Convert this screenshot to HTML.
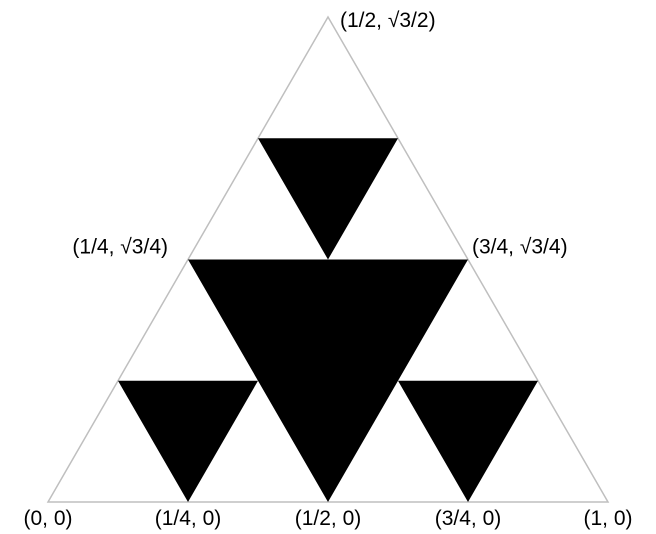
<!DOCTYPE html>
<html><head><meta charset="utf-8"><style>
html,body{margin:0;padding:0;background:#fff;}
svg{display:block;}
text{font-family:"Liberation Sans",sans-serif;font-size:21px;fill:#000;}
</style></head><body>
<svg id="chart" width="656" height="534" viewBox="0 0 656 534"></svg>
<script>
const corners = [[0,0],[1,0],[0.5,Math.sqrt(3)/2]];
const filled = [
 [[0.25,Math.sqrt(3)/4],[0.75,Math.sqrt(3)/4],[0.5,0]],
 [[0.375,3*Math.sqrt(3)/8],[0.625,3*Math.sqrt(3)/8],[0.5,Math.sqrt(3)/4]],
 [[0.125,Math.sqrt(3)/8],[0.375,Math.sqrt(3)/8],[0.25,0]],
 [[0.625,Math.sqrt(3)/8],[0.875,Math.sqrt(3)/8],[0.75,0]]
];
const labels = ["(0, 0)","(1/4, 0)","(1/2, 0)","(3/4, 0)","(1, 0)","(1/4, \u221A3/4)","(3/4, \u221A3/4)","(1/2, \u221A3/2)"];
const labelPts = [[0,0],[0.25,0],[0.5,0],[0.75,0],[1,0],[0.25,Math.sqrt(3)/4],[0.75,Math.sqrt(3)/4],[0.5,Math.sqrt(3)/2]];
const NS="http://www.w3.org/2000/svg";
const svg=document.getElementById('chart');
const X0=48,W=560,Y0=502;
const sx=x=>X0+x*W, sy=y=>Y0-y*W;
const pts=a=>a.map(p=>sx(p[0])+','+sy(p[1])).join(' ');
let o=document.createElementNS(NS,'polygon');
o.setAttribute('points',pts(corners));
o.setAttribute('fill','none');o.setAttribute('stroke','#bfbfbf');o.setAttribute('stroke-width','1.5');


svg.appendChild(o);
filled.forEach((t,i)=>{
 const p=document.createElementNS(NS,'polygon');
 p.setAttribute('points',pts(t));p.setAttribute('fill','#000');
 
 
 svg.appendChild(p);
});
labels.forEach((s,i)=>{
 const t=document.createElementNS(NS,'text');
 const p=labelPts[i];
 let x=sx(p[0]),y=sy(p[1]),anchor='middle';
 if(i<5){y+=23;}
 else if(i===5){x-=20;anchor='end';y-=6;}
 else if(i===6){x+=4;anchor='start';y-=6;}
 else {x+=12;anchor='start';y+=10;}
 t.setAttribute('x',x);t.setAttribute('y',y);t.setAttribute('text-anchor',anchor);
 t.textContent=s;
 
 
 svg.appendChild(t);
});
</script>
</body></html>
